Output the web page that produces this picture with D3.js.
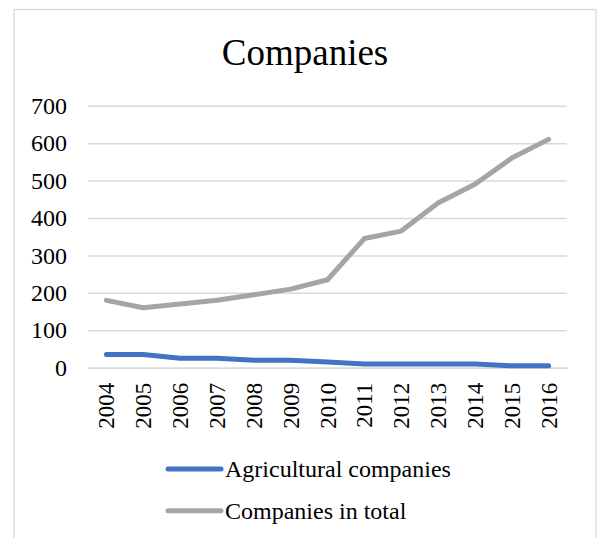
<!DOCTYPE html>
<html><head><meta charset="utf-8">
<script src="https://cdn.jsdelivr.net/npm/d3@7"></script>
<style>body{margin:0;background:#fff}svg{display:block}</style>
</head><body>
<svg id="c" width="601" height="538"></svg>
<script>
const years = ["2004","2005","2006","2007","2008","2009","2010","2011","2012","2013","2014","2015","2016"];
const agricultural = [35,35,25,25,20,20,15,10,10,10,10,5,5];
const total = [180,160,170,180,195,210,235,345,365,440,490,560,610];
const yTicks = [0,100,200,300,400,500,600,700];
const seriesNames = ["Agricultural companies","Companies in total"];
const seriesColors = ["#4472C4","#A5A5A5"];
const FONT = '"Liberation Serif","Times New Roman",serif';

const svg = d3.select("#c");
svg.append("rect").attr("x",14).attr("y",9.5).attr("width",582).attr("height",560)
  .attr("fill","#fff").attr("stroke","#d9d9d9").attr("stroke-width",1.3);

const x = d3.scaleBand().domain(years).range([88,567]);
const y = d3.scaleLinear().domain([0,700]).range([367.7,105.7]);

svg.append("text").attr("x",305).attr("y",65).attr("text-anchor","middle")
  .style("font-family",FONT).style("font-size","37px").attr("fill","#000").text("Companies");

const gy = svg.append("g").attr("transform","translate(88,0)")
  .call(d3.axisLeft(y).tickValues(yTicks).tickSize(-479).tickPadding(21).tickFormat(d3.format("d")));
gy.attr("font-family",FONT);
gy.select(".domain").remove();
gy.selectAll("line").attr("stroke","#d9d9d9").attr("stroke-width",1.5);
gy.selectAll("text").style("font-family",FONT).style("font-size","24px").attr("fill","#000");

const gx = svg.append("g").attr("transform","translate(0,367.7)")
  .call(d3.axisBottom(x).tickSize(0));
gx.attr("font-family",FONT);
gx.select(".domain").attr("stroke","#d9d9d9").attr("stroke-width",1.5);
gx.selectAll("text").style("font-family",FONT).style("font-size","23px").attr("fill","#000")
  .attr("text-anchor","end").attr("transform","rotate(-90)")
  .attr("x",-15).attr("y",0).attr("dy","0.35em");

const line = d3.line().x((d,i)=>x(years[i])+x.bandwidth()/2).y(d=>y(d));
[agricultural,total].forEach((s,k)=>{
  svg.append("path").datum(s).attr("d",line).attr("fill","none")
    .attr("stroke",seriesColors[k]).attr("stroke-width",5).attr("stroke-linejoin","round").attr("stroke-linecap","round");
});

const legY = [469,510.7];
seriesNames.forEach((n,k)=>{
  svg.append("line").attr("x1",168).attr("x2",221).attr("y1",legY[k]).attr("y2",legY[k])
    .attr("stroke",seriesColors[k]).attr("stroke-width",5).attr("stroke-linecap","round");
  svg.append("text").attr("x",225).attr("y",legY[k]).attr("dy","0.35em")
    .style("font-family",FONT).style("font-size","24px").attr("fill","#000").text(n);
});
</script>
</body></html>
